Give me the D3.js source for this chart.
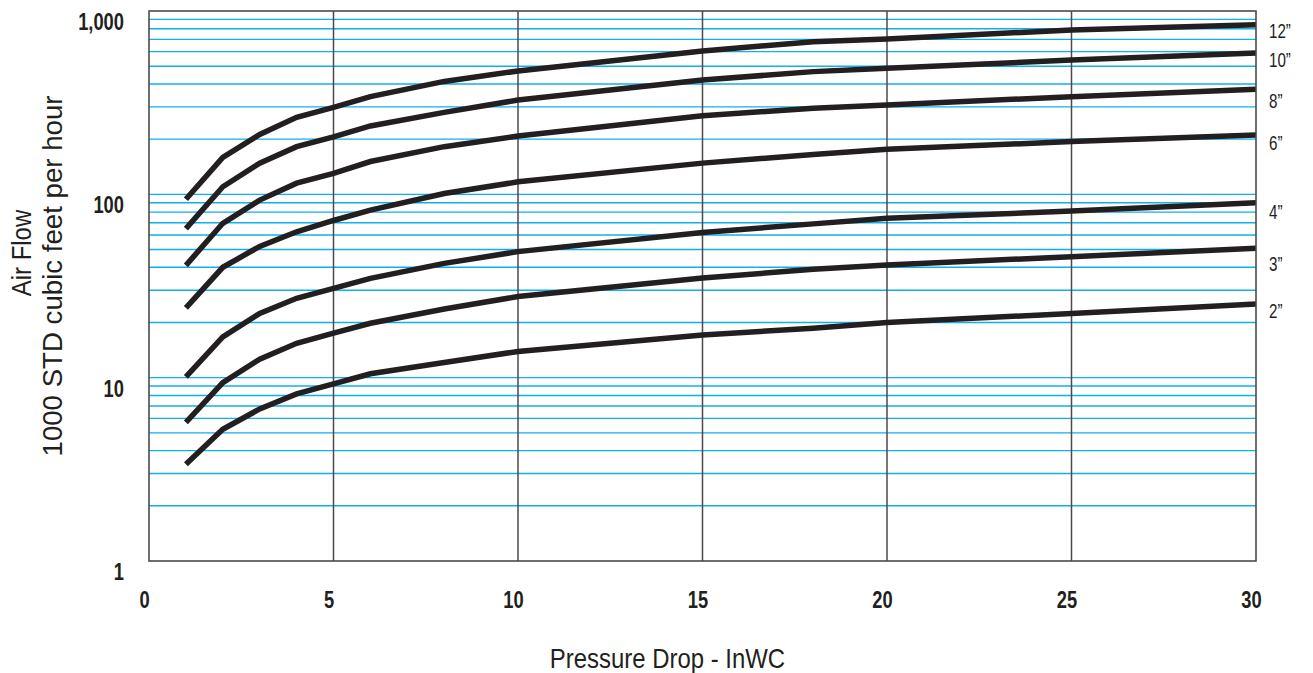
<!DOCTYPE html>
<html>
<head>
<meta charset="utf-8">
<script src="https://cdn.jsdelivr.net/npm/d3@7/dist/d3.min.js"></script>
<style>
  html, body { margin: 0; padding: 0; background: #fff; }
  svg { display: block; }
</style>
</head>
<body>
<svg id="chart" width="1313" height="673"></svg>
<script>
// ---------- data ----------
const pressure = [1, 2, 3, 4, 5, 6, 8, 10, 15, 18, 20, 25, 30];
const seriesNames = ["12\u201D", "10\u201D", "8\u201D", "6\u201D", "4\u201D", "3\u201D", "2\u201D"];
const flow12 = [94, 159, 212, 263, 298, 341, 413, 471, 605, 680, 703, 788, 842];
const flow10 = [65, 110, 148, 182, 206, 236, 280, 327, 420, 467, 487, 540, 590];
const flow8  = [41, 69.5, 93, 115, 130, 151, 182, 208, 268, 295, 307, 341, 374];
const flow6  = [24, 40, 52, 62.5, 72, 82, 101, 117, 148, 165, 176, 194, 211];
const flow4  = [10.1, 16.7, 22.4, 27.1, 30.7, 34.8, 42, 48.7, 62, 69, 74, 81, 90];
const flow3  = [5.7, 9.4, 12.6, 15.4, 17.5, 19.8, 23.7, 27.7, 35, 39, 41.2, 45.7, 50.8];
const flow2  = [3.37, 5.23, 6.75, 8.15, 9.24, 10.5, 12.1, 13.9, 17.1, 18.6, 20, 22.4, 25.2];
const seriesValues = [flow12, flow10, flow8, flow6, flow4, flow3, flow2];
// flow value at which each right-hand size label is centred
const labelAnchor = [778, 541, 323, 191, 81, 42, 23.1];
const xTicks = [0, 5, 10, 15, 20, 25, 30];
const yTicks = [1, 10, 100, 1000];
const yTickLabels = ["1", "10", "100", "1,000"];
const minorGrid = [2,3,4,5,6,7,8,9,10,20,30,40,50,60,70,80,90,100,200,300,400,500,600,700,800,900];
const xTitle = "Pressure Drop - InWC";
const yTitle1 = "Air Flow";
const yTitle2 = "1000 STD cubic feet per hour";

// ---------- layout ----------
const L = 149, R = 1256, T = 11, B = 561;
const svg = d3.select("#chart");
const x = d3.scaleLinear().domain([0, 30]).range([L, R]);
const y = d3.scaleLog().domain([1, 1000]).range([B, T]);

const font = "'Liberation Sans', Arial, sans-serif";
const ink = "#231f20";

// blue horizontal grid
svg.append("g").selectAll("line").data(minorGrid).join("line")
  .attr("x1", L).attr("x2", R)
  .attr("y1", d => y(d)).attr("y2", d => y(d))
  .attr("stroke", "#0fb0ec").attr("stroke-width", 1.4);

// vertical grid
svg.append("g").selectAll("line").data(xTicks.slice(1, -1)).join("line")
  .attr("x1", d => x(d)).attr("x2", d => x(d))
  .attr("y1", T).attr("y2", B)
  .attr("stroke", "#4a4a4a").attr("stroke-width", 1.5);

// curves
const line = d3.line().x((d, i) => x(pressure[i])).y(d => y(d));
svg.append("g").selectAll("path").data(seriesValues).join("path")
  .attr("d", d => line(d))
  .attr("fill", "none").attr("stroke", ink)
  .attr("stroke-width", 5.5).attr("stroke-linejoin", "miter").attr("stroke-linecap", "butt");

// frame
svg.append("rect").attr("x", L).attr("y", T).attr("width", R - L).attr("height", B - T)
  .attr("fill", "none").attr("stroke", "#4a4a4a").attr("stroke-width", 1.6);

// axes (condensed tick lettering)
const yAxis = d3.axisLeft(y).tickValues(yTicks).tickSize(0).tickPadding(0)
  .tickFormat((d, i) => yTickLabels[i]);
const gy = svg.append("g").attr("transform", `translate(${L},0)`).call(yAxis);
gy.select(".domain").remove();
gy.selectAll("text").attr("x", 0).attr("dy", 0).attr("y", 0)
  .attr("transform", "translate(-25,18.5) scale(0.78,1)")
  .attr("text-anchor", "end")
  .attr("font-family", font).attr("font-size", 23.5).attr("font-weight", "bold").attr("fill", ink);

const xAxis = d3.axisBottom(x).tickValues(xTicks).tickSize(0).tickPadding(0).tickFormat(d3.format("d"));
const gx = svg.append("g").attr("transform", `translate(0,${B})`).call(xAxis);
gx.select(".domain").remove();
gx.selectAll("text").attr("x", 0).attr("dy", 0).attr("y", 0)
  .attr("transform", "translate(-5,47) scale(0.78,1)")
  .attr("text-anchor", "middle")
  .attr("font-family", font).attr("font-size", 23.5).attr("font-weight", "bold").attr("fill", ink);

// series labels
svg.append("g").selectAll("text").data(seriesNames).join("text")
  .attr("transform", (d, i) => `translate(${R + 13},${y(labelAnchor[i])}) scale(0.74,1)`)
  .attr("dy", "0.36em")
  .attr("font-family", font).attr("font-size", 20.5).attr("fill", ink)
  .text(d => d);

// axis titles
svg.append("text").attr("transform", `translate(${(549 + 786) / 2},668) scale(0.84,1)`)
  .attr("text-anchor", "middle").attr("font-family", font).attr("font-size", 28.5)
  .attr("fill", ink).text(xTitle);

svg.append("text").attr("transform", "translate(31,253) rotate(-90) scale(0.84,1)")
  .attr("text-anchor", "middle").attr("font-family", font).attr("font-size", 28.5)
  .attr("fill", ink).text(yTitle1);
svg.append("text").attr("transform", "translate(62,276) rotate(-90) scale(0.97,1)")
  .attr("text-anchor", "middle").attr("font-family", font).attr("font-size", 28.5)
  .attr("fill", ink).text(yTitle2);
</script>
</body>
</html>
